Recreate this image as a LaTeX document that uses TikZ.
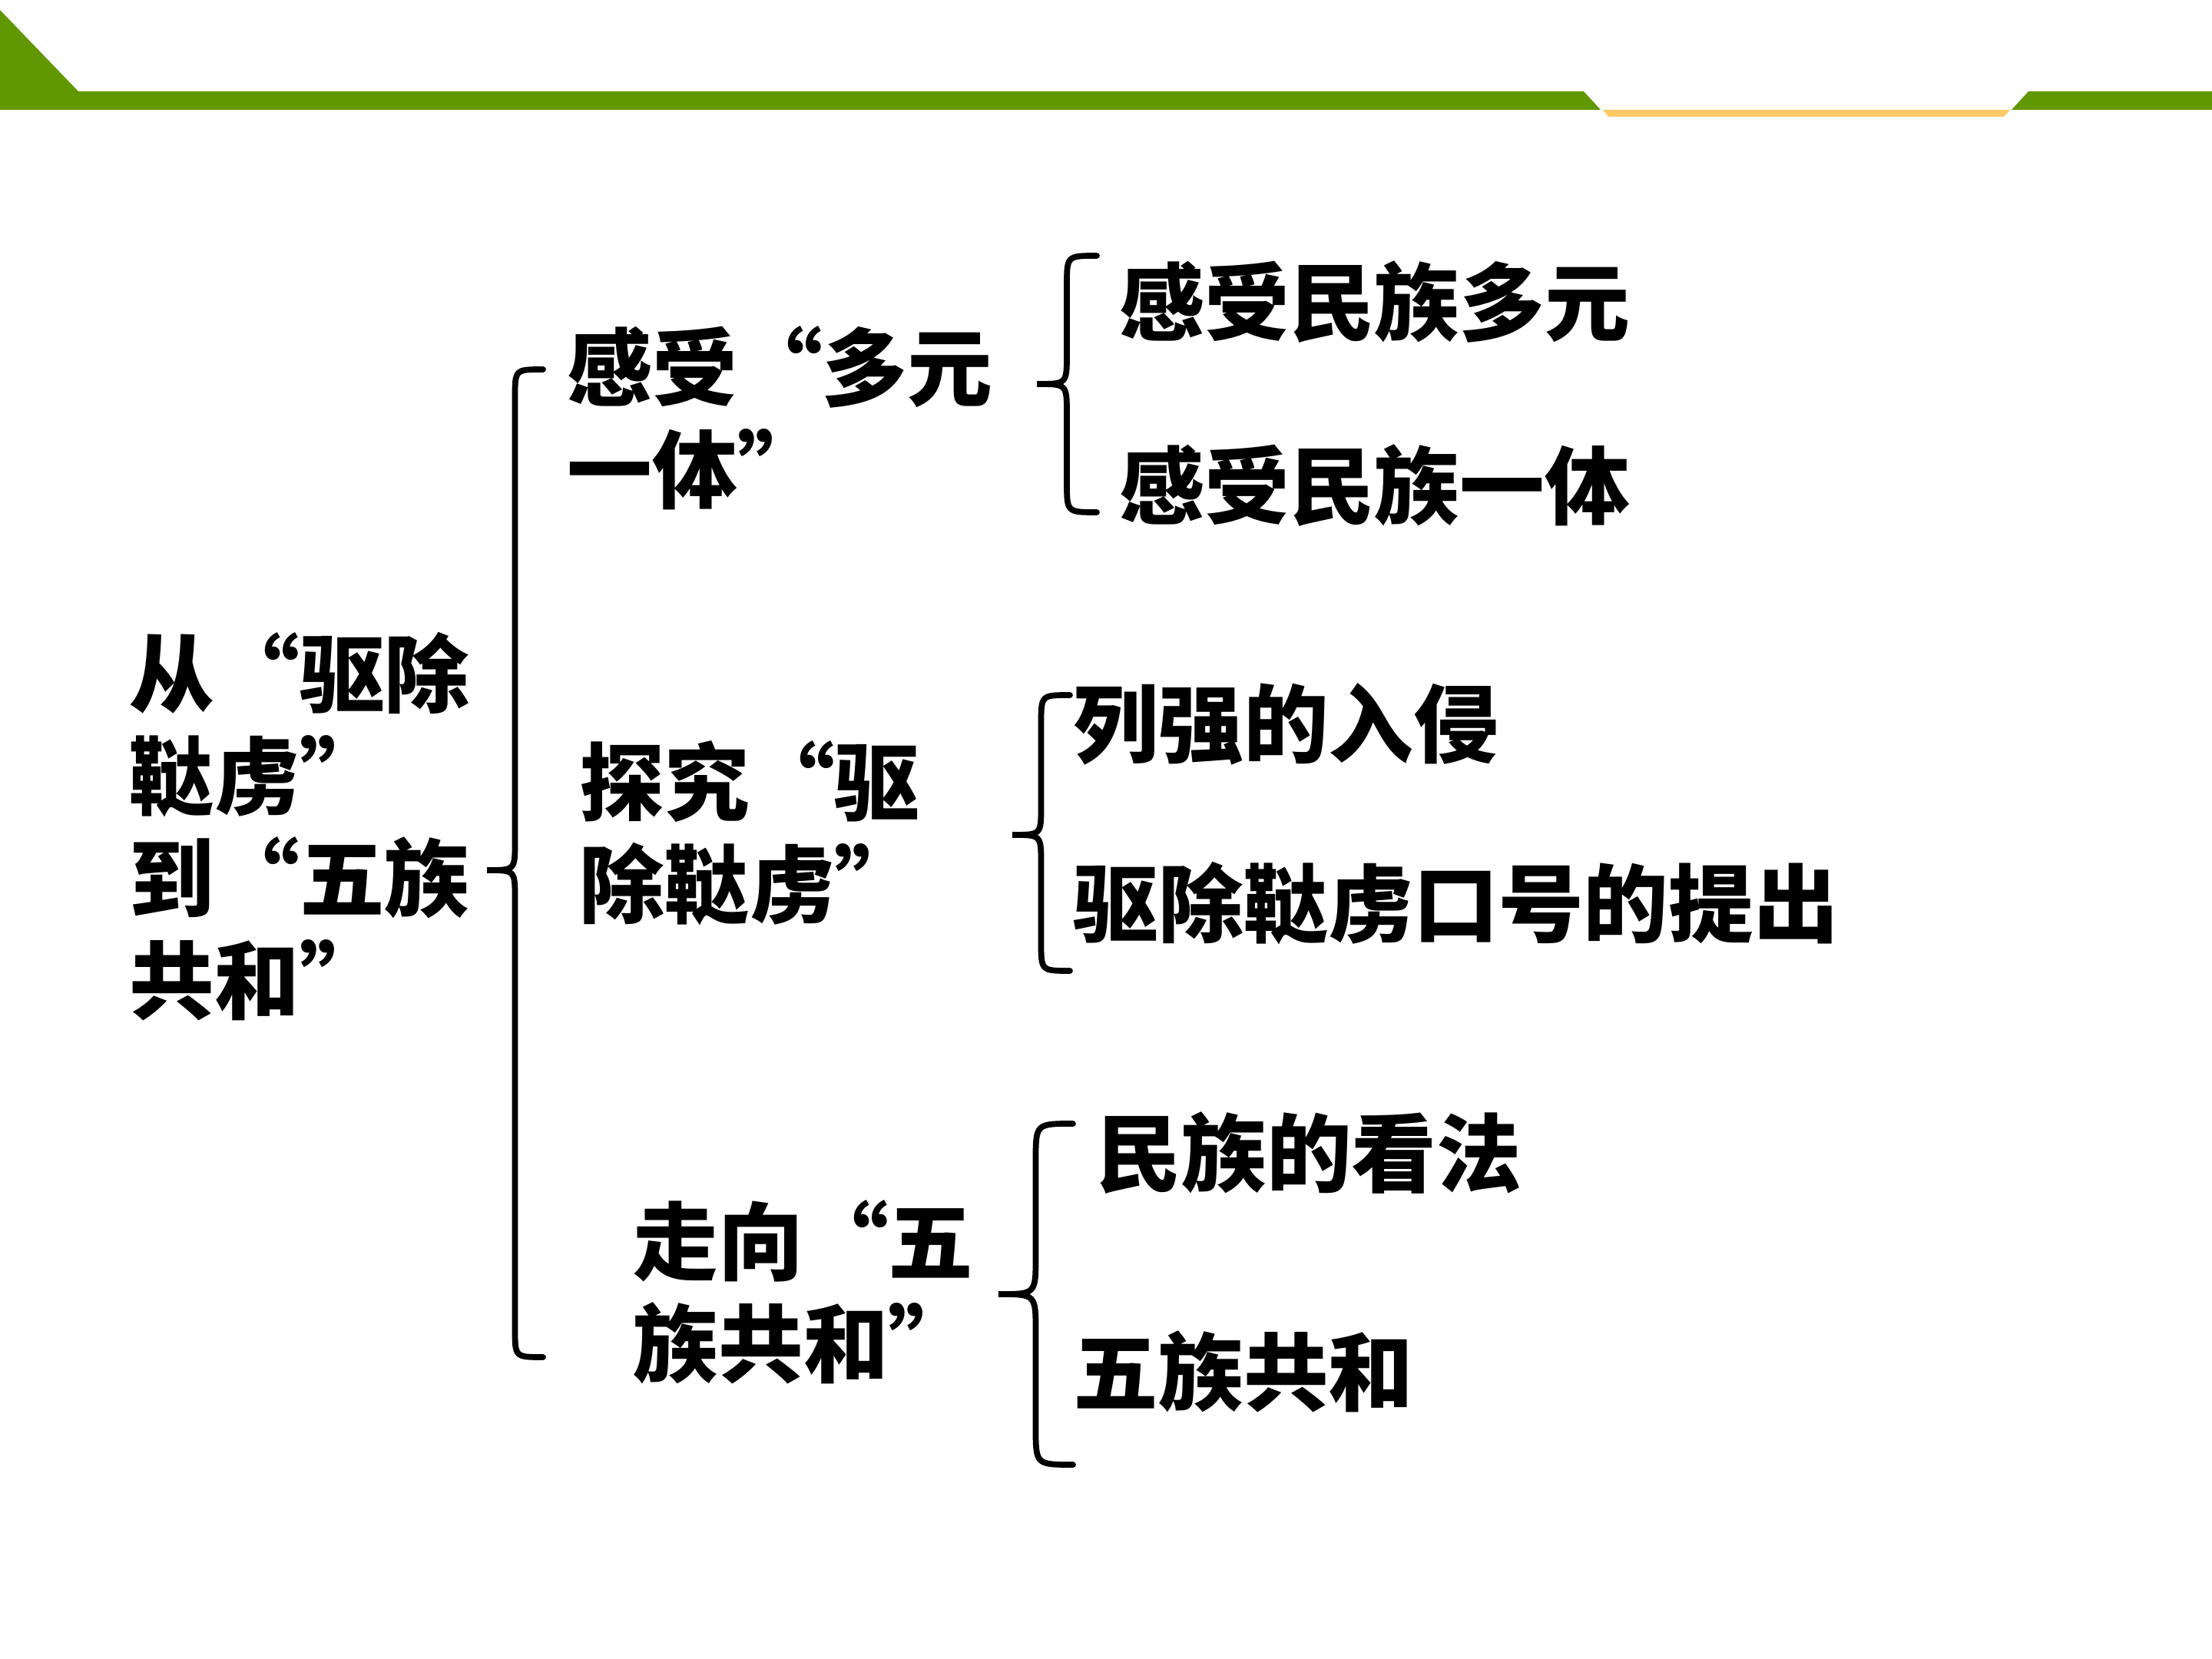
\documentclass[tikz,border=0pt]{standalone}
\usepackage{fontspec}
\newfontfamily\cjk{Noto Sans CJK SC}
\usetikzlibrary{calc}
\definecolor{bargreen}{RGB}{97,151,0}
\definecolor{baryellow}{RGB}{255,201,102}

\tikzset{
  topic/.style={anchor=west,align=left,inner sep=0pt,
    font=\cjk\bfseries\fontsize{31.5}{37.8}\selectfont},
  bracelin/.style={line width=2.2pt,line cap=round}
}
\newcommand\drawbrace[1]{%
  \draw[bracelin] let \p1=(#1top), \p2=(#1tip), \p3=(#1bot),
    \n1={(\x1+\x2)/2}, \n2={\x1-(\x1+\x2)/2} in
    (\p1) .. controls (\n1,\y1) .. (\n1,\y1-\n2)
    -- (\n1,\y2+\n2) .. controls (\n1,\y2) .. (\p2)
    .. controls (\n1,\y2) .. (\n1,\y2-\n2)
    -- (\n1,\y3+\n2) .. controls (\n1,\y3) .. (\p3);}

\begin{document}
\begin{tikzpicture}
\useasboundingbox (0,0) rectangle (28.8,-21.6);

% title bar
\fill[bargreen] (0,-0.13) -- (1.02,-1.19) -- (20.62,-1.19) -- (20.84,-1.43) -- (0,-1.43) -- cycle;
\fill[bargreen] (26.41,-1.19) -- (28.8,-1.19) -- (28.8,-1.43) -- (26.19,-1.43) -- cycle;
\fill[baryellow] (20.87,-1.43) -- (26.17,-1.43) -- (26.09,-1.52) -- (20.94,-1.52) -- cycle;

% topics
\node[topic] (root) at (1.68,-10.76) {从“驱除\\鞑虏”\\到“五族\\共和”};
\node[topic] (duoyuan) at (7.38,-5.44) {感受“多元\\一体”};
\node[topic] (qutu) at (7.54,-10.85) {探究“驱\\除鞑虏”};
\node[topic] (gonghe) at (8.24,-16.82) {走向“五\\族共和”};

\node[topic] (leafA) at (14.57,-3.93) {感受民族多元};
\node[topic] (leafB) at (14.57,-6.32) {感受民族一体};
\node[topic] (leafC) at (13.97,-9.43) {列强的入侵};
\node[topic] (leafD) at (13.97,-11.76) {驱除鞑虏口号的提出};
\node[topic] (leafE) at (14.27,-15.01) {民族的看法};
\node[topic] (leafF) at (13.97,-17.86) {五族共和};

% braces
\coordinate (b0top) at (7.07,-4.81);
\coordinate (b0tip) at (6.34,-11.33);
\coordinate (b0bot) at (7.07,-17.67);
\coordinate (b1top) at (14.28,-3.33);
\coordinate (b1tip) at (13.50,-5.00);
\coordinate (b1bot) at (14.28,-6.67);
\coordinate (b2top) at (13.93,-9.05);
\coordinate (b2tip) at (13.18,-10.87);
\coordinate (b2bot) at (13.93,-12.64);
\coordinate (b3top) at (13.97,-14.63);
\coordinate (b3tip) at (13.00,-16.85);
\coordinate (b3bot) at (13.97,-19.07);
\drawbrace{b0}
\drawbrace{b1}
\drawbrace{b2}
\drawbrace{b3}
\end{tikzpicture}
\end{document}
